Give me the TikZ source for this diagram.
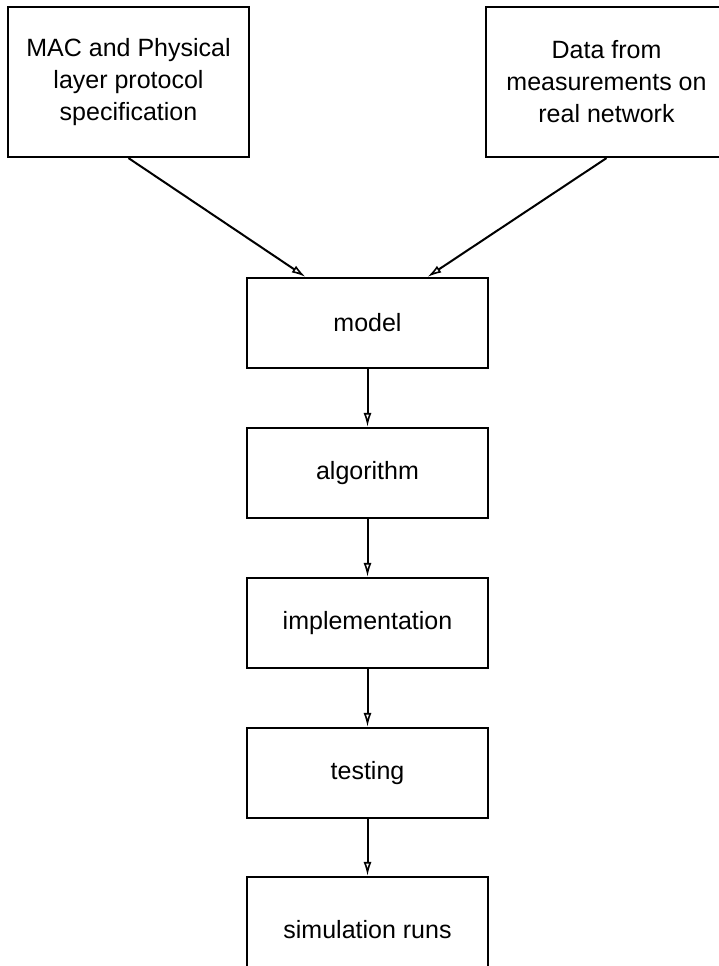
\documentclass[tikz,border=0pt]{standalone}
\usepackage{fontspec}
\setmainfont{Liberation Sans}
\usetikzlibrary{arrows.meta}
\tikzset{
  box/.style={draw, line width=2.2pt, rectangle, minimum width=241pt, minimum height=90pt, inner sep=0pt, align=center, font=\fontsize{25}{32}\selectfont},
  topbox/.style={box, minimum height=150pt},
  conn/.style={line width=2pt, -{Latex[open, length=14pt, width=8pt, line width=1.6pt]}}
}
\begin{document}
\begin{tikzpicture}[x=1pt, y=-1pt]
\useasboundingbox (0,0) rectangle (719,966);
\node[topbox] (mac) at (128.5,82) {MAC and Physical\\layer protocol\\specification};
\node[topbox] (data) at (606.5,82) {Data from\\measurements on\\real network};
\node[box] (model) at (367.5,323) {model};
\node[box] (algo) at (367.5,473) {algorithm};
\node[box] (impl) at (367.5,623) {implementation};
\node[box] (test) at (367.5,773) {testing};
\node[box, minimum height=106pt] (sim) at (367.5,930) {simulation runs};
\draw[conn] (mac.south) -- ([xshift=-62pt]model.north);
\draw[conn] (data.south) -- ([xshift=60pt]model.north);
\draw[conn] (model.south) -- (algo.north);
\draw[conn] (algo.south) -- (impl.north);
\draw[conn] (impl.south) -- (test.north);
\draw[conn] (test.south) -- (sim.north);
\end{tikzpicture}
\end{document}
